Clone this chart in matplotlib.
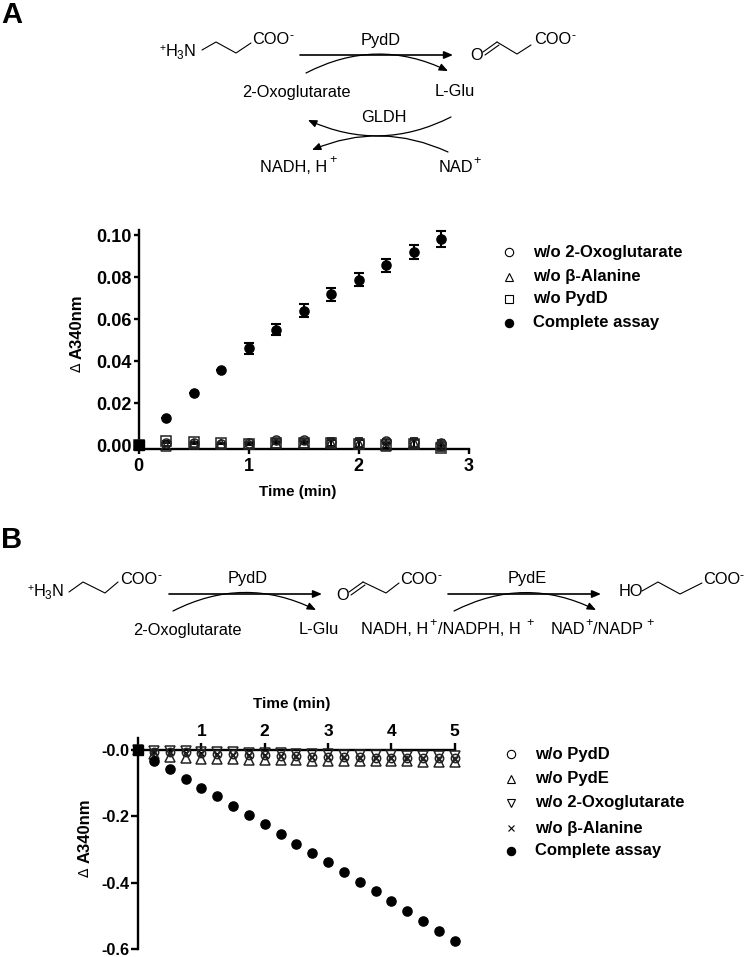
import numpy as np
import matplotlib
matplotlib.use("Agg")
import matplotlib.pyplot as plt
from matplotlib.patches import FancyArrowPatch

W, H = 745, 957
plt.rcParams["font.family"] = ["Liberation Sans", "DejaVu Sans"]

# panel A data
time_a = [0, .25, .5, .75, 1, 1.25, 1.5, 1.75, 2, 2.25, 2.5, 2.75]
complete_a = [0, .013, .025, .0357, .046, .055, .064, .0717, .0788, .0855, .0919, .098]
complete_a_err = [0, 0, 0, 0, .0025, .0025, .003, .0033, .0033, .0033, .0035, .0037]
no_oxo_a = [0, .0008, .001, .0006, .001, .0022, .0022, .0015, .0012, .0018, .0012, .0008]
no_oxo_a_err = [0, 0, 0, 0, .0005, .0005, .0005, .002, .002, .0012, .002, .0015]
no_ala_a = [0, -.0003, .0005, .0005, .0005, .001, .001, .0008, .0005, -.0003, .0008, 0]
no_ala_a_err = [0, 0, 0, 0, .0004, .0005, .0005, .0015, .002, .0012, .002, .0015]
no_pydd_a = [0, .002, .0012, .0008, .0006, .001, .001, .001, .0005, 0, .0005, -.0015]
no_pydd_a_err = [0, 0, 0, 0, .0004, .0005, .0005, .0015, .002, .0012, .002, .0015]
yticks_a = [0, .02, .04, .06, .08, .10]
legend_a = ["w/o 2-Oxoglutarate", "w/o β-Alanine", "w/o PydD", "Complete assay"]

# panel B data
time_b = [0, .25, .5, .75, 1, 1.25, 1.5, 1.75, 2, 2.25, 2.5, 2.75, 3, 3.25, 3.5, 3.75, 4, 4.25, 4.5, 4.75, 5]
complete_b = [0, -.032, -.058, -.087, -.115, -.14, -.169, -.196, -.224, -.254, -.282, -.31, -.339, -.367, -.397,
              -.425, -.455, -.486, -.517, -.547, -.577]
no_pydd_b = [0, -.005, -.006, -.007, -.009, -.012, -.013, -.014, -.015, -.017, -.018, -.02, -.02, -.021, -.022,
             -.023, -.023, -.024, -.024, -.025, -.025]
no_pyde_b = [0, -.012, -.02, -.024, -.026, -.028, -.028, -.029, -.03, -.031, -.031, -.032, -.032, -.033, -.033,
             -.034, -.034, -.034, -.035, -.035, -.035]
no_oxo_b = [0, -.002, -.003, -.004, -.005, -.006, -.007, -.008, -.009, -.01, -.011, -.012, -.013, -.014, -.015,
            -.016, -.016, -.017, -.017, -.018, -.018]
no_ala_b = [0, -.006, -.007, -.008, -.01, -.012, -.014, -.015, -.016, -.018, -.019, -.02, -.021, -.022, -.023,
            -.023, -.024, -.025, -.025, -.026, -.026]
yticks_b = [0, -.2, -.4, -.6]
ylabels_b = ["-0.0", "-0.2", "-0.4", "-0.6"]
legend_b = ["w/o PydD", "w/o PydE", "w/o 2-Oxoglutarate", "w/o β-Alanine", "Complete assay"]


def axes_px(fig, left, right, top, bottom):
    return fig.add_axes([left / W, 1 - bottom / H, (right - left) / W, (bottom - top) / H])


def open_marker(ax, x, y, m, yerr=None, ms=6.5):
    ax.errorbar(x, y, yerr=yerr, fmt=m, mfc="none", mec="#222222", mew=1.1, ms=ms, ecolor="black",
                elinewidth=1.4, capsize=3, capthick=1.5, clip_on=False, zorder=4)


fig = plt.figure(figsize=(W / 100, H / 100), dpi=100)

# A plot
ax = axes_px(fig, 138.5, 469, 230, 449)
ax.set_xlim(0, 3)
ax.set_ylim(-.0019, .1024)
open_marker(ax, time_a, no_oxo_a, "o", no_oxo_a_err)
open_marker(ax, time_a, no_ala_a, "^", no_ala_a_err)
open_marker(ax, time_a, no_pydd_a, "s", no_pydd_a_err)
ax.errorbar(time_a, complete_a, yerr=complete_a_err, fmt="o", color="black", ms=6.6, elinewidth=1.5,
            capsize=3.6, capthick=1.5, clip_on=False, zorder=5)
ax.plot(time_a[0], complete_a[0], "s", color="black", ms=7, clip_on=False, zorder=6)
ax.set_xticks([0, 1, 2, 3])
ax.set_yticks(yticks_a)
ax.set_yticklabels(["%.2f" % v for v in yticks_a])
ax.spines[["top", "right"]].set_visible(False)

# B plot
ax2 = axes_px(fig, 138, 454.7, 738, 949)
ax2.set_xlim(0, 5)
ax2.set_ylim(-.6, .0362)
open_marker(ax2, time_b, no_pydd_b, "o", ms=6)
open_marker(ax2, time_b, no_pyde_b, "^", ms=7.2)
open_marker(ax2, time_b, no_oxo_b, "v", ms=7.2)
ax2.plot(time_b, no_ala_b, "x", color="black", ms=4.5, mew=1, clip_on=False, zorder=4)
ax2.plot(time_b, complete_b, "o", color="black", ms=6.6, clip_on=False, zorder=5)
ax2.plot(time_b[0], complete_b[0], "s", color="black", ms=7, clip_on=False, zorder=6)
ax2.set_xticks([1, 2, 3, 4, 5])
ax2.set_yticks(yticks_b)
ax2.set_yticklabels(ylabels_b)
ax2.spines[["top", "right"]].set_visible(False)
ax2.spines["bottom"].set_position(("data", 0))
ax2.xaxis.tick_top()
ax2.tick_params(axis="x", top=True, bottom=False, labeltop=True)
# axis is at y=0, so top ticks need to sit on it
for t in ax2.get_xticklines():
    t.set_visible(False)

for a in (ax, ax2):
    for s in a.spines.values():
        s.set_linewidth(1.7)
    a.tick_params(width=1.7, length=3.6, labelsize=13, pad=1)
    for lab in a.get_xticklabels() + a.get_yticklabels():
        lab.set_fontweight("bold")
    a.patch.set_alpha(0)
ax.tick_params(axis="x", pad=3)
ax2.tick_params(axis="y", length=5, labelsize=11.7)
ax2.tick_params(axis="x", labelsize=12.5, pad=-4)

# overlay in pixel coordinates for the schemes and text
ov = fig.add_axes([0, 0, 1, 1], zorder=10)
ov.set_xlim(0, W)
ov.set_ylim(H, 0)
ov.axis("off")


def txt(x, y, s, size=11.8, ha="center", **kw):
    ov.text(x, y, s, fontsize=size, ha=ha, va="center", **kw)


def bond(xs, ys):
    ov.plot(xs, ys, color="black", lw=.8, solid_capstyle="round")


def arrow(p0, p1, rad=0.0, lw=.9):
    ov.add_patch(FancyArrowPatch(p0, p1, connectionstyle="arc3,rad=%s" % rad,
                                 arrowstyle="-|>,head_length=2.6,head_width=1.1",
                                 color="black", lw=lw, shrinkA=0, shrinkB=0, mutation_scale=2))


def coo(x, y):
    txt(x, y, "COO", ha="left")
    txt(x + 37, y - 4, "-", size=9, ha="left")


def amine(x, y):
    txt(x - 1, y - 4, "+", size=7.5, ha="left")
    txt(x + 5, y, "H", ha="left")
    txt(x + 16, y + 4, "3", size=8.5, ha="left")
    txt(x + 23, y, "N", ha="left")


# tick marks for B top axis (drawn on the spine)
for v in ax2.get_xticks():
    ax2.plot([v, v], [0, .021], color="black", lw=1.7, clip_on=False, solid_capstyle="butt", zorder=3)

# panel letters
txt(1, 15, "A", size=21, ha="left", fontweight="bold")
txt(1, 540, "B", size=21, ha="left", fontweight="bold")

# scheme A
amine(161, 52)
bond([202, 216, 236, 251], [50, 42, 53, 43])
coo(252, 40)
txt(381, 41, "PydD")
arrow((300, 55), (453, 55), lw=1.2)
arrow((306, 73), (448, 71), rad=-.25)
txt(477, 56, "O")
bond([483, 497], [52, 42])
bond([485, 499], [55, 45])
bond([497, 517, 531], [42, 54, 45])
coo(534, 40)
txt(296, 92, "2-Oxoglutarate")
txt(455, 92, "L-Glu")
txt(384, 117, "GLDH")
arrow((451, 117), (308, 120), rad=-.24)
arrow((448, 152), (312, 150), rad=.22)
txt(260, 167, "NADH, H", ha="left")
txt(329, 160, "+", size=9, ha="left")
txt(439, 167, "NAD", ha="left")
txt(473, 161, "+", size=9, ha="left")

# scheme B
amine(29, 592)
bond([69, 83, 105, 118], [592, 582, 593, 582])
coo(120, 580)
txt(248, 579, "PydD")
arrow((169, 594), (322, 594), lw=1.2)
arrow((173, 611), (316, 610), rad=-.25)
txt(343, 596, "O")
bond([349, 363], [592, 582])
bond([351, 365], [595, 585])
bond([363, 386, 399], [582, 593, 583])
coo(400, 580)
txt(527, 579, "PydE")
arrow((448, 594), (601, 594), lw=1.2)
arrow((454, 611), (596, 610), rad=-.25)
txt(619, 592, "HO", ha="left")
bond([642, 658, 680, 702], [591, 582, 594, 583])
coo(703, 580)
txt(187, 630, "2-Oxoglutarate")
txt(319, 630, "L-Glu")
txt(361, 630, "NADH, H", ha="left")
txt(429, 623, "+", size=9, ha="left")
txt(438, 630, "/NADPH, H", ha="left")
txt(526, 623, "+", size=9, ha="left")
txt(551, 630, "NAD", ha="left")
txt(585, 623, "+", size=9, ha="left")
txt(593, 630, "/NADP", ha="left")
txt(646, 623, "+", size=9, ha="left")

# axis titles
txt(298, 492, "Time (min)", size=11, fontweight="bold")
txt(292, 704, "Time (min)", size=11, fontweight="bold")
for x0, y_d, y_t in [(77, 367, 327), (85, 872, 831)]:
    txt(x0, y_d, "Δ", size=10, rotation=90, family=["DejaVu Sans"])
    txt(x0, y_t, "A340nm", size=12, rotation=90, fontweight="bold")

# legends
leg_a_y = [252, 277, 299, 323]
for m, y, s in zip("o^so", leg_a_y, legend_a):
    filled = s.startswith("Complete")
    ov.plot([509], [y], m, ms=6, mfc="black" if filled else "none", mec="black", mew=.8)
    txt(533, y, s, size=12, ha="left", fontweight="bold")
leg_b_y = [754, 779, 803, 828, 851]
for m, y, s in zip("o^vxo", leg_b_y, legend_b):
    filled = s.startswith("Complete")
    ov.plot([511], [y], m, ms=6 if m != "x" else 4.5, mfc="black" if filled else "none", mec="black", mew=.8)
    txt(535, y, s, size=12, ha="left", fontweight="bold")

fig.savefig("out.png", dpi=100)
